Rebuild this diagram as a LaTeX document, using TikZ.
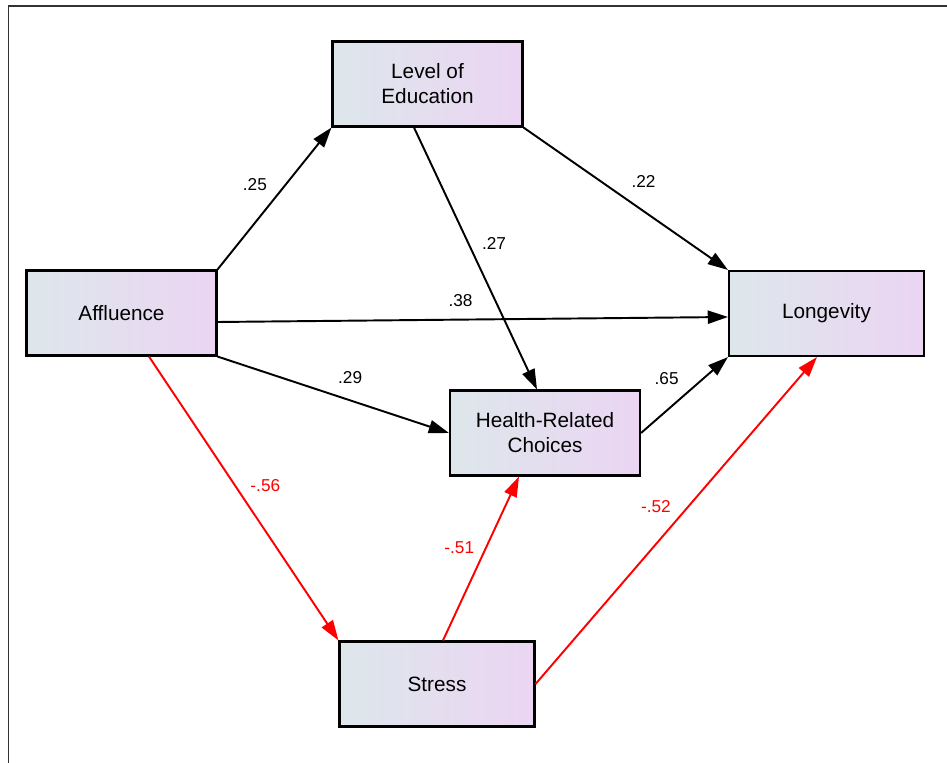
\documentclass[tikz,border=0pt]{standalone}
\usepackage{fontspec}
\setmainfont{Liberation Sans}
\usetikzlibrary{arrows.meta}

\definecolor{boxleft}{RGB}{221,231,235}
\definecolor{boxright}{RGB}{235,213,243}

\begin{document}
\begin{tikzpicture}[x=0.02cm,y=-0.02cm,>={Triangle[length=11.5pt,width=7.5pt]},
	var/.style={draw,line width=1.2pt,left color=boxleft,right color=boxright,minimum width=3.8cm,minimum height=1.7cm,align=center,font=\fontsize{11.8}{14.2}\selectfont},
	link/.style={->,line width=1.1pt},
	neg/.style={link,red},
	coef/.style={font=\fontsize{9.8}{12}\selectfont},
	frameline/.style={line width=1pt,black!80}]
	\useasboundingbox (0,0) rectangle (947,763);
	\draw[frameline] (8.5,763) -- (8.5,6) -- (947,6);

	\node[var] (edu) at (427.5,84) {Level of\\Education};
	\node[var] (aff) at (121.5,313) {Affluence};
	\node[var,minimum width=3.9cm] (lon) at (826.5,313.5) {Longevity};
	\node[var] (hrc) at (545,433) {Health-Related\\Choices};
	\node[var,minimum width=3.9cm] (str) at (437,684) {Stress};

	\draw[link] (aff.north east) -- node[coef,pos=0.6,xshift=-0.62cm] {.25} (edu.south west);
	\draw[link] (edu.south east) -- node[coef,pos=0.587,yshift=0.6cm] {.22} (lon.north west);
	\draw[link] ([xshift=-0.27cm]edu.south) -- node[coef,pos=0.443,xshift=0.51cm] {.27} ([xshift=-0.16cm]hrc.north);
	\draw[link] ([yshift=-0.18cm]aff.east) -- node[coef,pos=0.476,yshift=0.39cm] {.38} ([yshift=-0.07cm]lon.west);
	\draw[link] (aff.south east) -- node[coef,pos=0.573,yshift=0.46cm] {.29} (hrc.west);
	\draw[link] (hrc.east) -- node[coef,pos=0.72,xshift=-0.74cm] {.65} (lon.south west);
	\draw[neg] ([xshift=0.55cm]aff.south) -- node[coef,pos=0.453,xshift=0.61cm] {-.56} (str.north west);
	\draw[neg] ([xshift=0.12cm]str.north) -- node[coef,pos=0.569,xshift=-0.54cm] {-.51} ([xshift=-0.52cm]hrc.south);
	\draw[neg] (str.east) -- node[coef,pos=0.543,xshift=-0.65cm] {-.52} ([xshift=-0.19cm]lon.south);
\end{tikzpicture}
\end{document}
